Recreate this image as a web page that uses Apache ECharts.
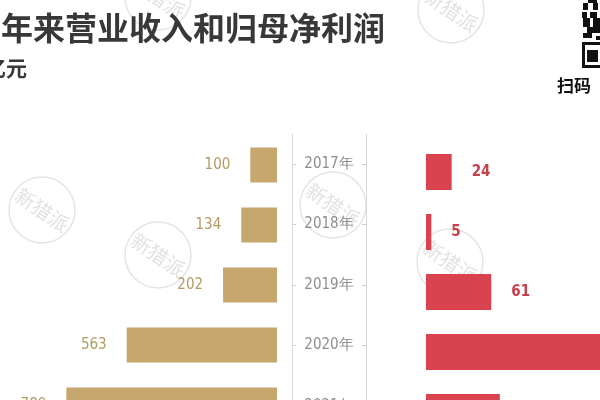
<!DOCTYPE html>
<html><head><meta charset="utf-8">
<script src="https://cdn.jsdelivr.net/npm/echarts@6/dist/echarts.min.js"></script>
<style>html,body{margin:0;padding:0;background:#fff}#c{width:600px;height:400px}</style>
</head><body><div id="c"></div>
<script>
var years = ['2017年', '2018年', '2019年', '2020年', '2021年'];
var revenue = [100, 134, 202, 563, 789];
var netProfit = [24, 5, 61, 275, 69];
var titleText = '年来营业收入和归母净利润';
var unitText = '亿元';
var scanText = '扫码';
var watermarkText = '新猎派';

var NARROW = "'Liberation Sans Narrow','DejaVu Sans Condensed','Arial Narrow','Liberation Sans',sans-serif";
var CJK = "'Noto Sans CJK SC','Noto Sans',sans-serif";
var GOLD = '#c6a86e', GOLD_T = '#b39a62', RED = '#d9424f', RED_T = '#c8404a';

var chart = echarts.init(document.getElementById('c'), null, {renderer: 'canvas'});

function watermark(cx, cy) {
  return {
    type: 'group', x: cx, y: cy, z: -10, silent: true,
    children: [
      {type: 'circle', shape: {cx: 0, cy: 0, r: 33}, style: {fill: 'none', stroke: '#e4e4e4', lineWidth: 1.5}},
      {type: 'text', rotation: -0.6, style: {text: watermarkText, x: 0, y: 0, align: 'center', verticalAlign: 'middle', fontSize: 20, fontFamily: CJK, fill: '#e2e2e2'}}
    ]
  };
}

var qrMods = [
  [588,0,9,3],[583,3,5,7],[593,3,5,7],[582,12,5,6],[590,12,7,6],
  [583,18,7,9],[593,18,7,9],[587,27,13,6],[583,33,9,5],[596,36,4,4]
];
var qrGraphics = qrMods.map(function (m) {
  return {type: 'rect', shape: {x: m[0], y: m[1], width: m[2], height: m[3]}, style: {fill: '#111'}};
});
qrGraphics.push({type: 'rect', shape: {x: 583.5, y: 43.5, width: 22, height: 23}, style: {fill: 'none', stroke: '#111', lineWidth: 3}});
qrGraphics.push({type: 'rect', shape: {x: 587, y: 50, width: 11, height: 12}, style: {fill: '#111'}});

var graphics = [
  watermark(42, 210), watermark(158, 255), watermark(333, 205), watermark(450, 262),
  watermark(158, -3), watermark(451, 10),
  {type: 'text', left: 1, top: 12, style: {text: titleText, fontSize: 32, fontWeight: 'bold', fontFamily: CJK, fill: '#383838'}},
  {type: 'text', left: -15, top: 58, style: {text: unitText, fontSize: 21, fontWeight: 'bold', fontFamily: CJK, fill: '#383838'}},
  {type: 'text', left: 557, top: 77, style: {text: scanText, fontSize: 17, fontWeight: 'bold', fontFamily: CJK, fill: '#111'}}
].concat(qrGraphics);

var gridCommon = {containLabel: false, outerBoundsMode: 'none'};
var option = {
  animation: false,
  backgroundColor: '#fff',
  graphic: graphics,
  grid: [
    Object.assign({left: 10, width: 267, top: 135, height: 300}, gridCommon),
    Object.assign({left: 292, width: 74, top: 134, height: 302}, gridCommon),
    Object.assign({left: 426, width: 214, top: 142, height: 300}, gridCommon)
  ],
  xAxis: [
    {gridIndex: 0, type: 'value', min: 0, max: 1000, inverse: true, show: false},
    {gridIndex: 1, type: 'value', min: 0, max: 1, show: false},
    {gridIndex: 2, type: 'value', min: 0, max: 200, show: false}
  ],
  yAxis: [
    {gridIndex: 0, type: 'category', data: years, inverse: true, show: false},
    {gridIndex: 1, type: 'category', data: years, inverse: true, position: 'left',
      axisLine: {show: true, lineStyle: {color: '#d9d9d9', width: 1}},
      axisTick: {show: true, inside: true, alignWithLabel: true, length: 4, lineStyle: {color: '#cfcfcf'}},
      axisLabel: {show: true, inside: true, align: 'center', margin: 37, fontSize: 15, fontFamily: NARROW, color: '#8e8e8e'}
    },
    {gridIndex: 1, type: 'category', data: years, inverse: true, position: 'right',
      axisLine: {show: true, lineStyle: {color: '#d9d9d9', width: 1}},
      axisTick: {show: true, inside: true, alignWithLabel: true, length: 4, lineStyle: {color: '#cfcfcf'}},
      axisLabel: {show: false}
    },
    {gridIndex: 2, type: 'category', data: years, inverse: true, show: false}
  ],
  series: [
    {type: 'bar', xAxisIndex: 0, yAxisIndex: 0, data: revenue, barWidth: 35,
      itemStyle: {color: GOLD},
      label: {show: true, position: 'left', distance: 20, fontSize: 15, fontFamily: NARROW, color: GOLD_T}
    },
    {type: 'bar', xAxisIndex: 2, yAxisIndex: 3, data: netProfit, barWidth: 36,
      itemStyle: {color: RED},
      label: {show: true, position: 'right', distance: 20, fontSize: 15, fontWeight: 'bold', fontFamily: NARROW, color: RED_T}
    }
  ]
};
chart.setOption(option);
</script>
</body></html>
